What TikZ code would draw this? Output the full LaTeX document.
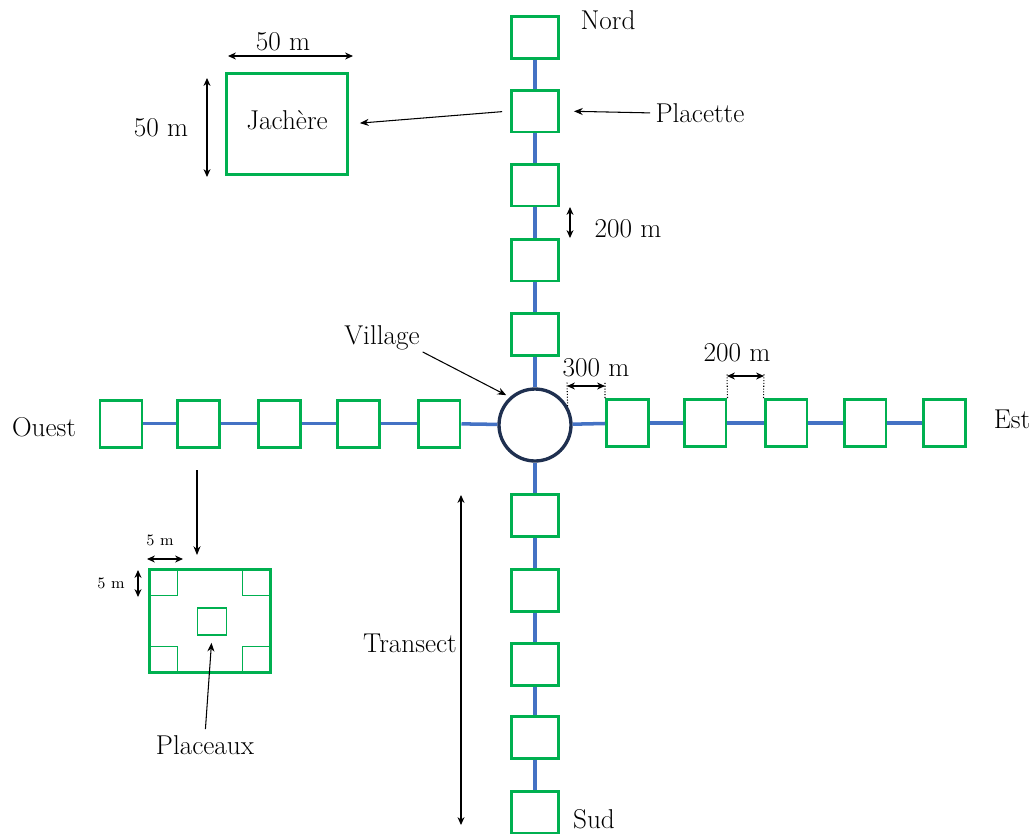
\documentclass[tikz,border=0pt]{standalone}
\usetikzlibrary{arrows.meta,calc}
\definecolor{pgreen}{HTML}{00B050}
\definecolor{tblue}{HTML}{4472C4}
\definecolor{vnavy}{HTML}{1F3050}
\tikzset{
 plac/.style={draw=pgreen, line width=1.7pt, minimum width=0.94cm, minimum height=0.84cm, inner sep=0pt, fill=white},
 plach/.style={plac, minimum width=0.84cm, minimum height=0.94cm},
 trans/.style={draw=tblue, line width=2pt},
 dim/.style={{Stealth[length=4.5pt,width=4pt]}-{Stealth[length=4.5pt,width=4pt]}, line width=0.6pt},
 ptr/.style={-{Stealth[length=5pt,width=4pt]}, line width=0.6pt},
 lab/.style={font=\fontsize{15.5}{18}\selectfont, inner sep=0pt},
 smlab/.style={font=\fontsize{9}{11}\selectfont, inner sep=0pt},
 guide/.style={densely dotted, line width=0.6pt},
 sub/.style={draw=pgreen, line width=0.9pt, minimum width=0.58cm, minimum height=0.54cm, inner sep=0pt}
}
\begin{document}
\begin{tikzpicture}[x=0.02cm,y=-0.02cm]
\useasboundingbox (0,0) rectangle (1035,833);
% village
\node[circle, draw=vnavy, line width=1.9pt, minimum size=1.44cm, inner sep=0pt] (V) at (535,425) {};
% north
\node[plac] (N1) at (535,37.5) {};
\node[plac] (N2) at (535,111) {};
\node[plac] (N3) at (535,185) {};
\node[plac] (N4) at (535,260) {};
\node[plac] (N5) at (535,334.5) {};
% south
\node[plac] (S1) at (535,515) {};
\node[plac] (S2) at (535,590) {};
\node[plac] (S3) at (535,664) {};
\node[plac] (S4) at (535,737) {};
\node[plac] (S5) at (535,812) {};
% east
\node[plach] (E1) at (627.5,423) {};
\node[plach] (E2) at (705,423) {};
\node[plach] (E3) at (786,423) {};
\node[plach] (E4) at (865,423) {};
\node[plach] (E5) at (944.5,423) {};
% west
\node[plach] (W1) at (121,423.5) {};
\node[plach] (W2) at (198.5,423.5) {};
\node[plach] (W3) at (279.5,423.5) {};
\node[plach] (W4) at (358.5,423.5) {};
\node[plach] (W5) at (439,423.5) {};
% transect lines
\draw[trans] (N1) -- (N2); \draw[trans] (N2) -- (N3); \draw[trans] (N3) -- (N4);
\draw[trans] (N4) -- (N5); \draw[trans] (N5) -- (V);
\draw[trans] (V) -- (S1); \draw[trans] (S1) -- (S2); \draw[trans] (S2) -- (S3);
\draw[trans] (S3) -- (S4); \draw[trans] (S4) -- (S5);
\draw[trans] (V) -- (E1); \draw[trans] (E1) -- (E2); \draw[trans] (E2) -- (E3);
\draw[trans] (E3) -- (E4); \draw[trans] (E4) -- (E5);
\draw[trans] (V) -- (W5); \draw[trans] (W5) -- (W4); \draw[trans] (W4) -- (W3);
\draw[trans] (W3) -- (W2); \draw[trans] (W2) -- (W1);
% labels
\node[lab] (nord) at (608,20) {Nord};
\node[lab] (sud) at (594,819) {Sud};
\node[lab] (est) at (1012,419) {Est};
\node[lab] (ouest) at (44,427) {Ouest};
\node[lab] (pl) at (700,113) {Placette};
\node[lab] (vl) at (382,338) {Village};
\node[lab] (tr) at (410,643) {Transect};
\draw[ptr, shorten <=0.1cm, shorten >=0.28cm] (pl.west) -- (N2.east);
\draw[ptr, shorten <=0.06cm, shorten >=0.08cm] (vl.south east) -- (V.132);
% Jachere
\node[draw=pgreen, line width=1.7pt, minimum width=2.42cm, minimum height=2.02cm, inner sep=0pt] (J) at (287,124) {};
\node[lab] (jt) at (287,120) {Jachère};
\draw[ptr, shorten <=0.16cm, shorten >=0.22cm] (N2.west) -- (J.east);
\coordinate (jt1) at (228,56); \coordinate (jt2) at (353,56);
\draw[dim] (jt1) -- (jt2);
\node[lab] (j50a) at (283,42) {50 m};
\coordinate (jl1) at (207,78); \coordinate (jl2) at (207,177);
\draw[dim] (jl1) -- (jl2);
\node[lab] (j50b) at (161,128) {50 m};
% spacing dims
\coordinate (d1) at (570,207); \coordinate (d2) at (570,238);
\draw[dim] (d1) -- (d2);
\node[lab] (d200a) at (628,229) {200 m};
\draw[guide] (V.30) -- (567,382);
\draw[guide] (E1.north west) -- (605,382);
\coordinate (t1) at (567,386); \coordinate (t2) at (605,386);
\draw[dim] (t1) -- (t2);
\node[lab] (d300) at (596,368) {300 m};
\draw[guide] (E2.north east) -- (727,373);
\draw[guide] (E3.north west) -- (764,373);
\coordinate (u1) at (727,376); \coordinate (u2) at (764,376);
\draw[dim] (u1) -- (u2);
\node[lab] (d200b) at (737,353) {200 m};
% transect arrow
\coordinate (ta) at (461,495); \coordinate (tb) at (461,825);
\draw[dim] (ta) -- (tb);
% placette detail
\node[draw=pgreen, line width=2pt, minimum width=2.42cm, minimum height=2.06cm, inner sep=0pt] (P) at (210,621) {};
\node[sub, anchor=north west] (c1) at (P.north west) {};
\node[sub, anchor=north east] (c2) at (P.north east) {};
\node[sub, anchor=south west] (c3) at (P.south west) {};
\node[sub, anchor=south east] (c4) at (P.south east) {};
\node[sub] (C) at (212,621.5) {};
\coordinate (wa) at (197,470); \coordinate (wb) at (197,555);
\draw[ptr] (wa) -- (wb);
\coordinate (s1) at (147,559); \coordinate (s2) at (183,559);
\draw[dim] (s1) -- (s2);
\node[smlab] (s5a) at (160,540) {5 m};
\coordinate (v1) at (138,570); \coordinate (v2) at (138,597);
\draw[dim] (v1) -- (v2);
\node[smlab] (s5b) at (111,583) {5 m};
\node[lab] (plx) at (205,745) {Placeaux};
\draw[ptr, shorten <=0.12cm, shorten >=0.14cm] (plx.north) -- (C.south);
\end{tikzpicture}
\end{document}
